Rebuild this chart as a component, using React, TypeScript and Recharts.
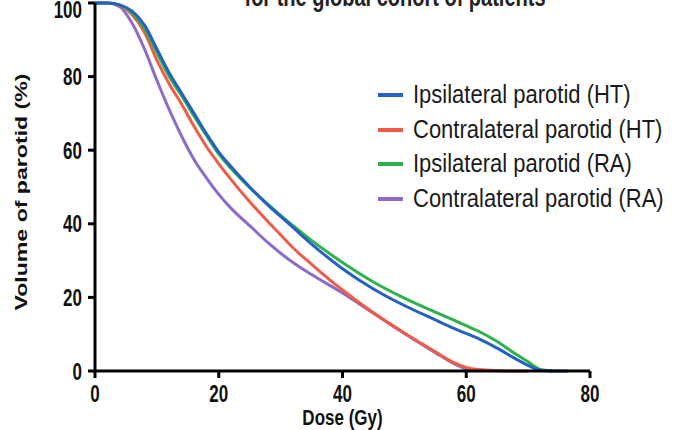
import React from 'react';
import { LineChart, Line, XAxis, YAxis, Legend, Label, Customized } from 'recharts';

const doses = [0, 2, 4, 6, 8, 10, 12, 14, 16, 18, 20, 22, 25, 28, 30, 32, 35, 40, 45, 50, 55, 58, 60, 62, 65, 68, 70, 72, 74, 76.5];

const ipsiHT = [100, 100, 99.5, 97.8, 94, 87.5, 81, 75.5, 70, 64.5, 59.5, 55.5, 50, 45, 42, 39, 34.5, 27.8, 22.3, 17.8, 13.9, 11.6, 10.2, 8.8, 6.2, 3.3, 1.5, 0.2, 0, 0];
const contraHT = [100, 100, 99.3, 96.8, 92, 84.5, 78, 72.5, 66.5, 61, 56.3, 52, 46, 40.5, 37, 33.5, 29, 22, 15.8, 10.3, 5.2, 2.3, 1, 0.4, 0.1, 0, 0, null, null, null];
const ipsiRA = [100, 100, 99.4, 97.3, 93, 86.5, 80, 74.8, 69.3, 64, 59, 55, 49.8, 45.2, 42.3, 39.5, 35.5, 29.5, 24.2, 19.8, 16, 13.8, 12.3, 10.8, 8, 4.6, 2.5, 0.4, 0, null];
const contraRA = [100, 100, 99, 94.5, 87.5, 79, 71, 63.8, 57.5, 52.5, 48, 44.2, 39.5, 34.8, 32, 29.5, 26.2, 21.2, 15.7, 10.2, 5, 2, 0.6, 0, null, null, null, null, null, null];

const xTicks = [0, 20, 40, 60, 80];
const yTicks = [0, 20, 40, 60, 80, 100];

// legend order (drawing order is different so blue ends up on top)
const series = [
  { key: 'ipsiHT', name: 'Ipsilateral parotid (HT)', color: '#2560c4' },
  { key: 'contraHT', name: 'Contralateral parotid (HT)', color: '#f05c48' },
  { key: 'ipsiRA', name: 'Ipsilateral parotid (RA)', color: '#2fb24c' },
  { key: 'contraRA', name: 'Contralateral parotid (RA)', color: '#8c6cc8' },
];
const drawOrder = ['contraRA', 'contraHT', 'ipsiRA', 'ipsiHT'];

const data = doses.map((dose, i) => ({
  dose,
  ipsiHT: ipsiHT[i],
  contraHT: contraHT[i],
  ipsiRA: ipsiRA[i],
  contraRA: contraRA[i],
}));

const FONT = '"Liberation Sans", Arial, Helvetica, sans-serif';
const STRETCH = 1.4;

const XTick = (props: any) => {
  const { x, y, payload } = props;
  return (
    <g transform={`translate(${x},${y}) scale(1,${STRETCH})`}>
      <text textAnchor="middle" dy="0.72em" fontSize={17} fontWeight="bold" fontFamily={FONT} fill="#111">
        {payload.value}
      </text>
    </g>
  );
};

const YTick = (props: any) => {
  const { x, y, payload } = props;
  return (
    <g transform={`translate(${x},${y}) scale(1,${STRETCH})`}>
      <text textAnchor="end" dominantBaseline="central" fontSize={17} fontWeight="bold" fontFamily={FONT} fill="#111">
        {payload.value}
      </text>
    </g>
  );
};

const XTitle = (props: any) => {
  const { x, y, width } = props.viewBox;
  return (
    <g transform={`translate(${x + width / 2},${y + 54}) scale(1,1.35)`}>
      <text textAnchor="middle" fontSize={17} fontWeight="bold" fontFamily={FONT} fill="#111">
        Dose (Gy)
      </text>
    </g>
  );
};

const YTitle = (props: any) => {
  const { y, height } = props.viewBox;
  return (
    <g transform={`translate(27,${y + height / 2 + 5}) scale(1,1.36) rotate(-90)`}>
      <text textAnchor="middle" fontSize={17} fontWeight="bold" fontFamily={FONT} fill="#111">
        Volume of parotid (%)
      </text>
    </g>
  );
};

// top of the title is cut off in the source figure
const Title = () => (
  <g transform={`translate(395,6) scale(1,${STRETCH})`}>
    <text textAnchor="middle" fontSize={20} fontWeight="bold" fontFamily={FONT} fill="#222">
      for the global cohort of patients
    </text>
  </g>
);

const LegendBox = () => (
  <div style={{ fontFamily: FONT }}>
    {series.map((s) => (
      <div key={s.key} style={{ display: 'flex', alignItems: 'center', height: 34.5 }}>
        <div style={{ width: 25, height: 4, background: s.color, marginRight: 10 }} />
        <span style={{ fontSize: 22, color: '#1a1a1a', display: 'inline-block', transform: 'scaleY(1.15)', whiteSpace: 'nowrap' }}>
          {s.name}
        </span>
      </div>
    ))}
  </div>
);

export default function App() {
  return (
    <div style={{ position: 'absolute', left: 0, top: 0, width: 687, height: 430, background: '#fff' }}>
      <LineChart width={687} height={430} data={data} margin={{ top: 3, right: 97, left: 35, bottom: 0 }}>
        <XAxis
          dataKey="dose"
          type="number"
          domain={[0, 80]}
          ticks={xTicks}
          height={59}
          tickSize={7}
          tickMargin={7}
          axisLine={{ stroke: '#000', strokeWidth: 3 }}
          tickLine={{ stroke: '#000', strokeWidth: 3 }}
          tick={<XTick />}
        >
          <Label content={<XTitle />} />
        </XAxis>
        <YAxis
          type="number"
          domain={[0, 100]}
          ticks={yTicks}
          width={60}
          tickSize={7}
          tickMargin={6}
          axisLine={{ stroke: '#000', strokeWidth: 3 }}
          tickLine={{ stroke: '#000', strokeWidth: 3 }}
          tick={<YTick />}
        >
          <Label content={<YTitle />} />
        </YAxis>
        <Legend
          layout="vertical"
          align="center"
          verticalAlign="middle"
          content={<LegendBox />}
          wrapperStyle={{ left: 378, top: 78, width: 300, height: 140 }}
        />
        {drawOrder.map((k) => {
          const s = series.find((t) => t.key === k)!;
          return (
            <Line
              key={k}
              type="monotone"
              dataKey={k}
              name={s.name}
              stroke={s.color}
              strokeWidth={3}
              dot={false}
              isAnimationActive={false}
            />
          );
        })}
        <Customized component={Title} />
      </LineChart>
    </div>
  );
}
